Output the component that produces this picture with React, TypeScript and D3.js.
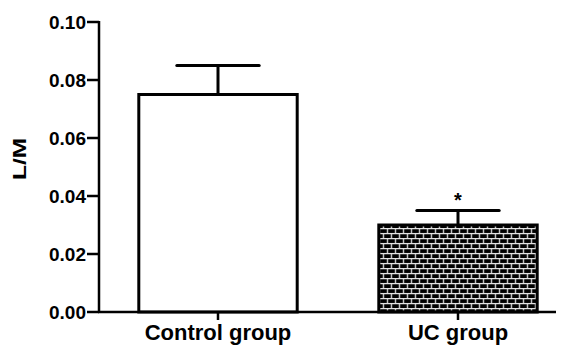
import { useRef, useEffect } from "react";
import * as d3 from "d3";

const groups = ["Control group", "UC group"];
const means = [0.075, 0.03];
const errors = [0.01, 0.005];
const marks = ["", "*"];
const yTicks = [0, 0.02, 0.04, 0.06, 0.08, 0.1];

const W = 574;
const H = 345;

const App = () => {
  const ref = useRef<SVGSVGElement>(null);

  useEffect(() => {
    const svg = d3.select(ref.current);
    svg.selectAll("*").remove();
    const font = "'Liberation Sans', Arial, sans-serif";

    const x = d3
      .scaleBand()
      .domain(groups)
      .range([98, 578])
      .paddingInner(0.34)
      .paddingOuter(0.17);
    const y = d3.scaleLinear().domain([0, 0.1]).range([312, 22]);

    // brick pattern for UC bar
    const defs = svg.append("defs");
    const pat = defs
      .append("pattern")
      .attr("id", "brick")
      .attr("patternUnits", "userSpaceOnUse")
      .attr("width", 8)
      .attr("height", 10)
      .attr("x", x("UC group"))
      .attr("y", y(means[1]) + 3);
    pat.append("rect").attr("width", 8).attr("height", 10).attr("fill", "#000");
    const mortar = "#e2e2e2";
    const sw = 1.3;
    pat.append("line").attr("x1", 0).attr("x2", 8).attr("y1", 0.6).attr("y2", 0.6).attr("stroke", mortar).attr("stroke-width", sw);
    pat.append("line").attr("x1", 0).attr("x2", 8).attr("y1", 5.6).attr("y2", 5.6).attr("stroke", mortar).attr("stroke-width", sw);
    pat.append("line").attr("x1", 0.6).attr("x2", 0.6).attr("y1", 0).attr("y2", 5.6).attr("stroke", mortar).attr("stroke-width", sw);
    pat.append("line").attr("x1", 4.6).attr("x2", 4.6).attr("y1", 5.6).attr("y2", 10).attr("stroke", mortar).attr("stroke-width", sw);

    const data = groups.map((g, i) => ({ g, m: means[i], e: errors[i], s: marks[i] }));

    // error bars
    const capHalf = x.bandwidth() * 0.26;
    const eb = svg.append("g").attr("stroke", "#000").attr("stroke-width", 3).attr("stroke-linecap", "round");
    data.forEach((d) => {
      const cx = x(d.g)! + x.bandwidth() / 2;
      eb.append("line").attr("x1", cx).attr("x2", cx).attr("y1", y(d.m)).attr("y2", y(d.m + d.e)).attr("stroke-linecap", "butt");
      eb.append("line").attr("x1", cx - capHalf).attr("x2", cx + capHalf).attr("y1", y(d.m + d.e)).attr("y2", y(d.m + d.e));
    });

    // bars
    svg
      .selectAll(".bar")
      .data(data)
      .enter()
      .append("rect")
      .attr("class", "bar")
      .attr("x", (d) => x(d.g)!)
      .attr("y", (d) => y(d.m))
      .attr("width", x.bandwidth())
      .attr("height", (d) => y(0) - y(d.m))
      .attr("fill", (d, i) => (i === 0 ? "#fff" : "url(#brick)"))
      .attr("stroke", "#000")
      .attr("stroke-width", 3);

    // significance marks
    svg
      .selectAll(".sig")
      .data(data)
      .enter()
      .append("text")
      .attr("x", (d) => x(d.g)! + x.bandwidth() / 2)
      .attr("y", (d) => y(d.m + d.e) - 4)
      .attr("text-anchor", "middle")
      .style("font-family", font)
      .style("font-weight", "bold")
      .style("font-size", "20px")
      .text((d) => d.s);

    // y axis
    const ax = svg.append("g").attr("stroke", "#000").attr("stroke-width", 2.5);
    ax.append("line").attr("x1", 99).attr("x2", 99).attr("y1", y(0.1) - 1).attr("y2", y(0) + 1);
    yTicks.forEach((t) => {
      ax.append("line").attr("x1", 87).attr("x2", 99).attr("y1", y(t)).attr("y2", y(t));
    });
    svg
      .selectAll(".ytick")
      .data(yTicks)
      .enter()
      .append("text")
      .attr("x", 86)
      .attr("y", (d) => y(d))
      .attr("dy", "0.36em")
      .attr("text-anchor", "end")
      .style("font-family", font)
      .style("font-weight", "bold")
      .style("font-size", "19px")
      .text((d) => d3.format(".2f")(d));

    // x axis
    ax.append("line").attr("x1", 98).attr("x2", 556).attr("y1", y(0)).attr("y2", y(0));
    groups.forEach((g) => {
      const cx = x(g)! + x.bandwidth() / 2;
      ax.append("line").attr("x1", cx).attr("x2", cx).attr("y1", y(0)).attr("y2", y(0) + 8);
    });
    svg
      .selectAll(".xlab")
      .data(groups)
      .enter()
      .append("text")
      .attr("x", (d) => x(d)! + x.bandwidth() / 2)
      .attr("y", 340)
      .attr("text-anchor", "middle")
      .style("font-family", font)
      .style("font-weight", "bold")
      .style("font-size", "22px")
      .text((d) => d);

    // y label
    svg
      .append("text")
      .attr("transform", "translate(26,159) rotate(-90)")
      .attr("text-anchor", "middle")
      .attr("textLength", 42)
      .attr("lengthAdjust", "spacingAndGlyphs")
      .style("font-family", font)
      .style("font-weight", "bold")
      .style("font-size", "19px")
      .text("L/M");
  }, []);

  return (
    <svg
      ref={ref}
      width={W}
      height={H}
      style={{ position: "absolute", left: 0, top: 0, background: "#fff" }}
    ></svg>
  );
};

export default App;
